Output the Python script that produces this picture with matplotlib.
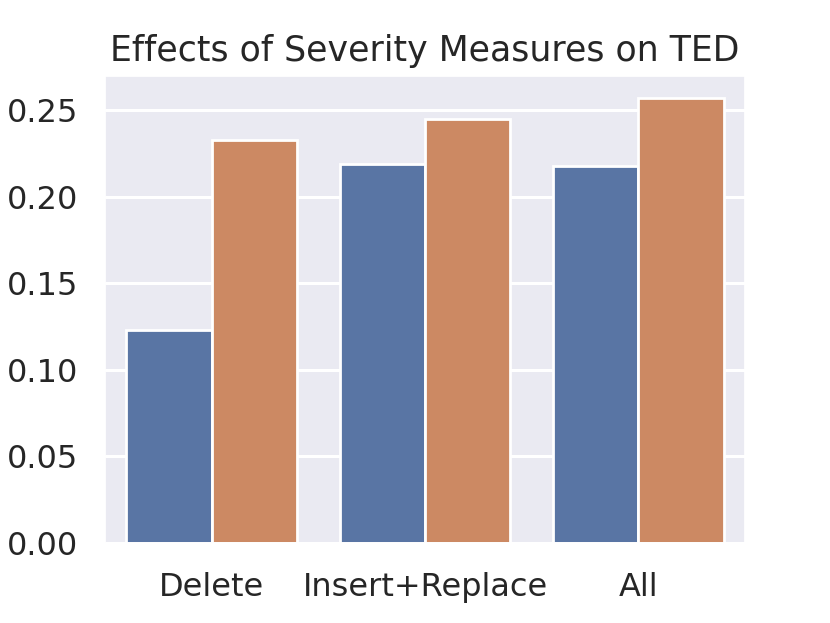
import numpy as np
import pandas as pd
import matplotlib
matplotlib.use('Agg')
import matplotlib.pyplot as plt
import seaborn as sns

categories = ['Delete', 'Insert+Replace', 'All']
series_a = [0.123, 0.219, 0.218]
series_b = [0.233, 0.245, 0.257]

sns.set_theme(style='darkgrid')

df = pd.DataFrame({
    'measure': categories * 2,
    'value': series_a + series_b,
    'group': ['a'] * 3 + ['b'] * 3,
})

fig = plt.figure(figsize=(8.3, 6.23), dpi=100)
ax = fig.add_axes([105 / 830, 1 - 543 / 623, 640 / 830, 467 / 623])
sns.barplot(data=df, x='measure', y='value', hue='group', ax=ax,
            edgecolor='white', linewidth=2, saturation=0.75)
ax.get_legend().remove()
ax.set_xlabel('')
ax.set_ylabel('')
ax.grid(False, axis='x')
ax.grid(True, axis='y', linewidth=2.2, color='white')
ax.set_title('Effects of Severity Measures on TED', fontsize=25, pad=11)
ax.tick_params(axis='x', labelsize=23, pad=15)
ax.tick_params(axis='y', labelsize=23, pad=13)
ax.set_yticks([0, 0.05, 0.10, 0.15, 0.20, 0.25])
ax.set_yticklabels(['0.00', '0.05', '0.10', '0.15', '0.20', '0.25'])

fig.savefig('out.png', dpi=100)
